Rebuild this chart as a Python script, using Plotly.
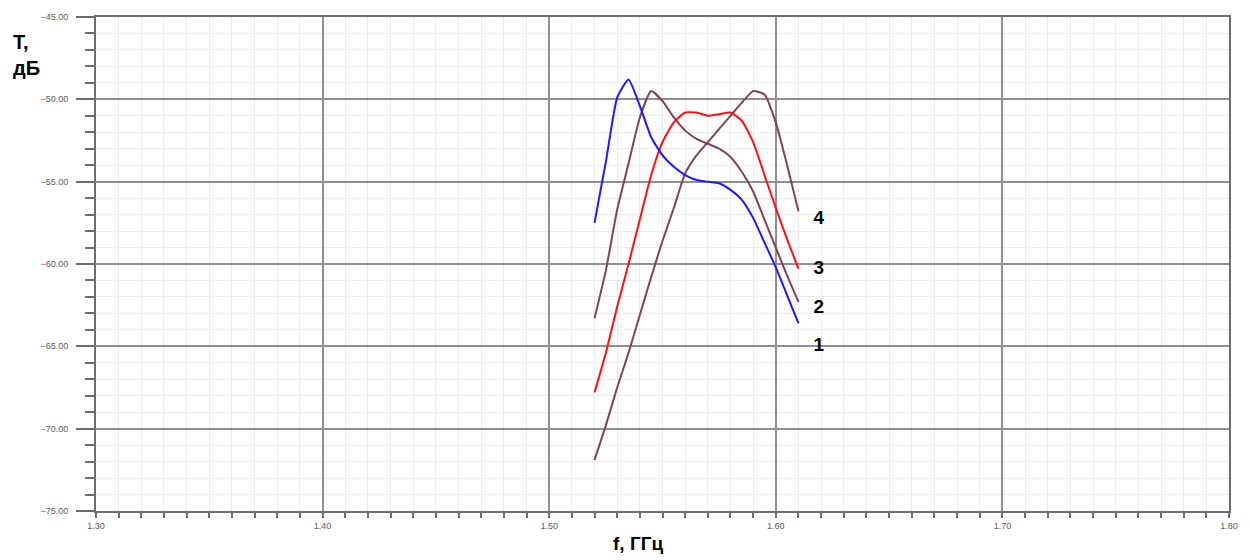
import plotly.graph_objects as go

freq = [1.52, 1.525, 1.53, 1.535, 1.54, 1.545, 1.55, 1.555, 1.56, 1.565,
        1.57, 1.575, 1.58, 1.585, 1.59, 1.595, 1.60, 1.605, 1.61]

curve1 = [-57.5, -53.8, -49.9, -48.8, -50.4, -52.3, -53.4, -54.1, -54.6, -54.9,
          -55.0, -55.1, -55.5, -56.1, -57.2, -58.7, -60.2, -61.9, -63.6]
curve2 = [-63.3, -60.4, -56.7, -53.9, -51.1, -49.5, -50.1, -51.1, -51.9, -52.4,
          -52.7, -53.0, -53.5, -54.4, -55.6, -57.3, -59.0, -60.7, -62.3]
curve3 = [-67.8, -65.4, -62.6, -60.0, -57.3, -54.6, -52.6, -51.4, -50.8, -50.8,
          -51.0, -50.9, -50.8, -51.3, -52.6, -54.6, -56.6, -58.5, -60.3]
curve4 = [-71.9, -69.8, -67.5, -65.4, -63.1, -60.8, -58.6, -56.6, -54.5, -53.4,
          -52.6, -51.8, -51.0, -50.2, -49.5, -49.7, -51.4, -54.0, -56.8]

labels = ["1", "2", "3", "4"]
label_x = [1.6166, 1.6166, 1.6166, 1.6166]
label_y = [-65.0, -62.7, -60.3, -57.3]

x_ticks = [1.30, 1.40, 1.50, 1.60, 1.70, 1.80]
y_ticks = [-45, -50, -55, -60, -65, -70, -75]

series = [
    (curve4, "#80405f"),
    (curve2, "#80405f"),
    (curve3, "#ff1010"),
    (curve1, "#1a1aff"),
]

fig = go.Figure()
for ys, col in series:
    fig.add_trace(go.Scatter(x=freq, y=ys, mode="lines",
                             line=dict(color=col, width=2, shape="spline",
                                       smoothing=0.5),
                             showlegend=False, hoverinfo="skip"))

fig.add_trace(go.Scatter(x=label_x, y=label_y, mode="text",
                         text=["<b>" + t + "</b>" for t in labels],
                         textposition="middle right",
                         textfont=dict(family="Liberation Sans, Arial", size=19,
                                       color="#000000"),
                         showlegend=False, cliponaxis=False, hoverinfo="skip"))

fig.update_layout(
    width=1250, height=560,
    margin=dict(l=96, r=17, t=14, b=49),
    paper_bgcolor="white", plot_bgcolor="white",
    font=dict(family="Liberation Sans, Arial", size=9, color="#5a5a5a"),
    xaxis=dict(
        range=[1.30, 1.80], tickvals=x_ticks, tickformat=".2f",
        showgrid=True, gridcolor="#8f8f8f", gridwidth=1.6,
        showline=True, linecolor="#6e6e6e", linewidth=2, mirror=True,
        ticks="outside", ticklen=5, tickcolor="#6e6e6e", tickwidth=1.5,
        zeroline=False,
        minor=dict(dtick=0.01, showgrid=True, gridcolor="#ececec", gridwidth=1,
                   ticks="outside", ticklen=5, tickcolor="#6e6e6e", tickwidth=1.5),
        tickfont=dict(size=9, color="#5a5a5a"),
    ),
    yaxis=dict(
        range=[-75, -45], tickvals=y_ticks, tickformat=".2f",
        showgrid=True, gridcolor="#8f8f8f", gridwidth=1.6,
        showline=True, linecolor="#6e6e6e", linewidth=2, mirror=True,
        ticks="outside", ticklen=18, tickcolor="#6e6e6e", tickwidth=1.5,
        zeroline=False,
        minor=dict(dtick=1, showgrid=True, gridcolor="#ececec", gridwidth=1,
                   ticks="outside", ticklen=9, tickcolor="#6e6e6e", tickwidth=1.5),
        tickfont=dict(size=9, color="#5a5a5a"),
        ticklabelstandoff=6,
    ),
    annotations=[
        dict(text="<b>T,<br>дБ</b>", xref="paper", yref="paper",
             x=-0.075, y=0.975, xanchor="left", yanchor="top", showarrow=False,
             align="left",
             font=dict(family="Liberation Sans, Arial", size=20, color="#000000")),
        dict(text="<b>f, ГГц</b>", xref="paper", yref="paper",
             x=0.478, y=-0.066, xanchor="center", yanchor="middle", showarrow=False,
             borderpad=0,
             font=dict(family="Liberation Sans, Arial", size=19, color="#000000")),
    ],
)

fig.write_html("out.html")
